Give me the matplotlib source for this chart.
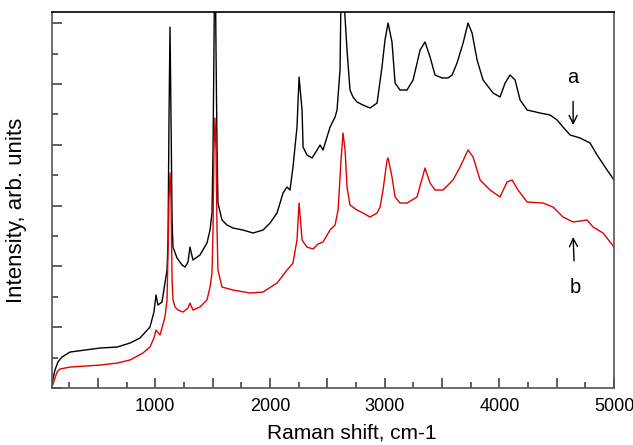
import matplotlib
matplotlib.use('Agg')
import matplotlib.pyplot as plt
from matplotlib.ticker import MultipleLocator, FuncFormatter

#--- Spectrum a (black), Raman shift in cm-1 and intensity in arb. units
shift_a = [100, 126, 152, 187, 257, 388, 519, 667, 780, 867, 954, 989, 1007, 1024, 1059,
           1085, 1103, 1112, 1120, 1129, 1138, 1147, 1155, 1190, 1234, 1260, 1286, 1303,
           1329, 1390, 1451, 1478, 1495, 1504, 1512, 1521, 1530, 1539, 1547, 1582, 1626,
           1678, 1765, 1853, 1940, 2001, 2062, 2114, 2149, 2175, 2201, 2236, 2254, 2280,
           2289, 2323, 2367, 2411, 2437, 2463, 2524, 2568, 2585, 2611, 2628, 2645, 2672,
           2698, 2724, 2759, 2811, 2873, 2934, 2977, 3003, 3030, 3064, 3091, 3134, 3195,
           3248, 3309, 3352, 3396, 3439, 3500, 3553, 3588, 3631, 3684, 3727, 3762, 3806,
           3858, 3945, 4006, 4050, 4093, 4137, 4181, 4242, 4355, 4442, 4503, 4555, 4617,
           4704, 4791, 4852, 4939, 5000]
int_a = [82, 296, 428, 510, 592, 625, 658, 674, 740, 822, 1003, 1250, 1530, 1365, 1415,
         1727, 1941, 2435, 4409, 5938, 4409, 2764, 2319, 2139, 2023, 1990, 2073, 2319,
         2106, 2188, 2385, 2599, 2879, 3915, 5560, 7600, 5560, 3915, 3043, 2764, 2681,
         2632, 2599, 2550, 2599, 2714, 2879, 3208, 3306, 3257, 3635, 4293, 5116, 4573,
         3964, 3833, 3784, 3915, 3997, 3915, 4293, 4458, 4573, 5231, 7600, 6400, 5560,
         4902, 4787, 4705, 4655, 4606, 4688, 5281, 5725, 6004, 5692, 5017, 4902, 4902,
         5067, 5560, 5692, 5445, 5149, 5100, 5100, 5149, 5346, 5675, 6004, 5840, 5396,
         5067, 4853, 4787, 5017, 5149, 5067, 4738, 4573, 4524, 4491, 4409, 4293, 4162,
         4113, 4030, 3833, 3586, 3422]

#--- Spectrum b (red)
shift_b = [100, 126, 144, 170, 257, 519, 667, 780, 893, 954, 989, 1007, 1042, 1085, 1103,
           1112, 1120, 1129, 1138, 1147, 1155, 1173, 1199, 1243, 1286, 1303, 1329, 1390,
           1451, 1478, 1495, 1504, 1512, 1521, 1530, 1539, 1547, 1582, 1678, 1826, 1940,
           2062, 2149, 2201, 2236, 2254, 2280, 2323, 2376, 2419, 2463, 2524, 2568, 2594,
           2620, 2637, 2655, 2672, 2698, 2759, 2811, 2873, 2934, 2960, 2986, 3021, 3030,
           3064, 3091, 3134, 3195, 3282, 3352, 3396, 3439, 3509, 3596, 3657, 3727, 3771,
           3832, 3919, 4006, 4067, 4111, 4163, 4242, 4381, 4468, 4555, 4643, 4765, 4817,
           4904, 5000]
int_b = [16, 165, 263, 313, 345, 378, 411, 461, 576, 674, 822, 954, 872, 1168, 1448,
         2270, 3093, 3537, 3093, 1777, 1448, 1332, 1283, 1250, 1316, 1398, 1283, 1332,
         1448, 1661, 1892, 2599, 3915, 4442, 3915, 2599, 1941, 1661, 1612, 1563, 1579,
         1727, 1941, 2056, 2435, 3043, 2435, 2319, 2287, 2369, 2402, 2599, 2681, 2928,
         3751, 4195, 3915, 3306, 3010, 2928, 2879, 2813, 2879, 2977, 3257, 3751, 3784,
         3471, 3142, 3043, 3043, 3142, 3619, 3372, 3257, 3257, 3422, 3635, 3915, 3800,
         3422, 3257, 3142, 3389, 3422, 3257, 3060, 3043, 2977, 2813, 2731, 2764, 2648,
         2550, 2319]

def main():
	plt.rcParams['font.family'] = ['Liberation Sans', 'DejaVu Sans']
	plt.rcParams['font.size'] = 13

	fig = plt.figure(figsize = (6.33, 4.45), dpi = 100)
	ax = fig.add_axes([0.0821, 0.128, 0.888, 0.845])

	ax.plot(shift_a, int_a, color = 'black', lw = 1.0)
	ax.plot(shift_b, int_b, color = '#e00000', lw = 1.0)

	ax.set_xlim(100, 5000)
	ax.set_ylim(0, 6185)

	#--- Ticks: long every 500 (labels every 1000), short every 250
	ax.xaxis.set_major_locator(MultipleLocator(500))
	ax.xaxis.set_minor_locator(MultipleLocator(250))
	ax.xaxis.set_major_formatter(FuncFormatter(lambda v, p: '%d' % v if v % 1000 == 0 else ''))
	ax.yaxis.set_major_locator(MultipleLocator(1000))
	ax.yaxis.set_minor_locator(MultipleLocator(500))
	ax.yaxis.set_major_formatter(FuncFormatter(lambda v, p: ''))
	ax.tick_params(which = 'both', direction = 'in', top = False, right = False, color = '#444444', width = 1.2)
	ax.tick_params(which = 'major', length = 7, pad = 7)
	ax.tick_params(which = 'minor', length = 4)

	for side in ['left', 'bottom', 'right']:
		ax.spines[side].set_color('#555555')
		ax.spines[side].set_linewidth(1.2)
	ax.spines['top'].set_color('black')
	ax.spines['top'].set_linewidth(1.2)

	ax.set_xlabel('Raman shift, cm-1', fontsize = 15)
	ax.xaxis.set_label_coords(0.534, -0.095)
	ax.set_ylabel('Intensity, arb. units', fontsize = 16)
	ax.yaxis.set_label_coords(-0.045, 0.473)

	#--- Curve markers
	ax.annotate('a', xy = (4643, 4326), xytext = (4643, 5100), ha = 'center', va = 'center', fontsize = 14.5,
	            arrowprops = dict(arrowstyle = '->', color = 'black', lw = 1.0, shrinkA = 8, shrinkB = 0))
	ax.annotate('b', xy = (4643, 2484), xytext = (4660, 1661), ha = 'center', va = 'center', fontsize = 14.5,
	            arrowprops = dict(arrowstyle = '->', color = 'black', lw = 1.0, shrinkA = 10, shrinkB = 0))

	fig.savefig('out.png', dpi = 100)
	plt.close(fig)

if __name__ == "__main__":
	main()
